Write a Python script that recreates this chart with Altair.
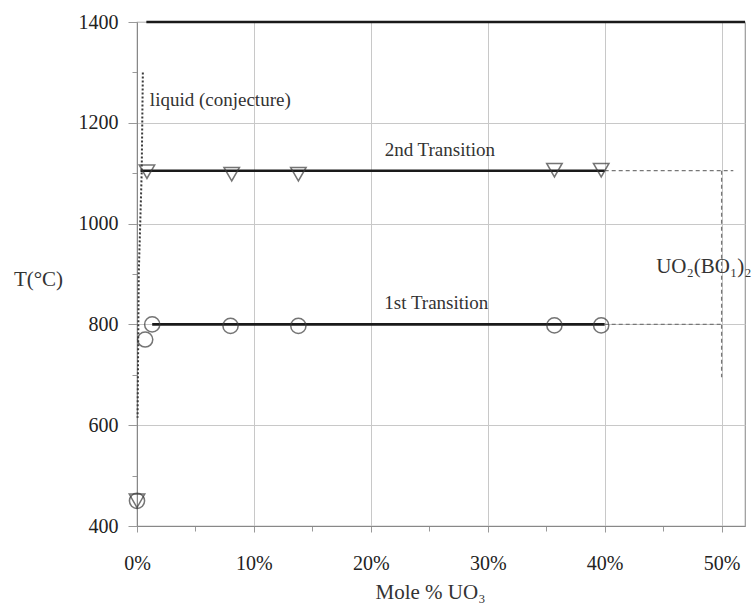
import altair as alt
import pandas as pd

FONT = "Liberation Serif"
INK = "#333333"

# 2nd transition (triangles) and 1st transition (circles), mole % UO3 vs T
tri_x = [0.0, 0.85, 8.1, 13.8, 35.7, 39.7]
tri_y = [450, 1103, 1098, 1098, 1106, 1106]
circ_x = [0.0, 0.7, 1.3, 8.0, 13.8, 35.7, 39.7]
circ_y = [450, 770, 800, 797, 797, 798, 798]

# solid phase boundaries
solid_id = ["top", "top", "t2", "t2", "t1", "t1"]
solid_x = [0.8, 52.0, 0.3, 40.0, 1.3, 40.0]
solid_y = [1400, 1400, 1105, 1105, 800, 800]

# dashed extrapolation toward UO2(BO1)2
dash_id = ["a", "a", "b", "b", "c", "c"]
dash_x = [40.0, 51.0, 50.0, 50.0, 40.0, 50.0]
dash_y = [1105, 1105, 1105, 695, 800, 800]

# conjectured liquidus
liq_x = [0.5, 0.4, 0.15, 0.05]
liq_y = [1300, 1100, 900, 615]

# annotations: centred transition labels, left-aligned region labels
mid_text = ["2nd Transition", "1st Transition"]
mid_x = [25.9, 25.6]
mid_y = [1146, 842]
left_text = ["liquid (conjecture)", "UO₂(BO₁)₂"]
left_x = [1.1, 44.4]
left_y = [1245, 914]
left_size = [19, 21]

xs = alt.Scale(domain=[0, 52], nice=False, zero=False)
ys = alt.Scale(domain=[400, 1400], nice=False, zero=False)

x_axis = alt.Axis(
    values=list(range(0, 55, 5)),
    labelExpr="datum.value % 10 === 0 ? datum.value + '%' : ''",
    labelFlush=False,
    title="Mole % UO₃",
    titleFont=FONT, titleFontSize=21, titleFontWeight="normal", titleColor=INK,
    titleX=293, titleY=66, titleBaseline="middle",
    labelFont=FONT, labelFontSize=20, labelColor="#222222", labelPadding=21,
    grid=True, gridColor="#c8c8c8",
    gridOpacity={"condition": {"test": "datum.value % 10 === 0", "value": 1}, "value": 0},
    tickSize={"condition": {"test": "datum.value % 10 === 0", "value": 6}, "value": 5},
    tickColor="#999999", domainColor="#888888",
)
y_axis = alt.Axis(
    values=list(range(400, 1500, 100)),
    labelExpr="datum.value % 200 === 0 ? datum.value : ''",
    labelFlush=False,
    title="T(°C)", titleAngle=0,
    titleFont=FONT, titleFontSize=21, titleFontWeight="normal", titleColor=INK,
    titleX=-99, titleY=257, titleAlign="center", titleBaseline="middle",
    labelFont=FONT, labelFontSize=20, labelColor="#222222", labelPadding=10,
    grid=True, gridColor="#c8c8c8",
    gridOpacity={"condition": {"test": "datum.value % 200 === 0", "value": 1}, "value": 0},
    tickSize={"condition": {"test": "datum.value % 200 === 0", "value": 9}, "value": 5},
    tickColor="#999999", domainColor="#888888",
)

solid_df = pd.DataFrame({"seg": solid_id, "x": solid_x, "y": solid_y})
dash_df = pd.DataFrame({"seg": dash_id, "x": dash_x, "y": dash_y,
                        "o": list(range(len(dash_x)))})
liq_df = pd.DataFrame({"x": liq_x, "y": liq_y, "o": list(range(len(liq_x)))})
tri_df = pd.DataFrame({"x": tri_x, "y": tri_y})
circ_df = pd.DataFrame({"x": circ_x, "y": circ_y})
mid_df = pd.DataFrame({"t": mid_text, "x": mid_x, "y": mid_y})
left_df = pd.DataFrame({"t": left_text, "x": left_x, "y": left_y, "s": left_size})

base_x = alt.X("x:Q", scale=xs, axis=x_axis)
base_y = alt.Y("y:Q", scale=ys, axis=y_axis)

solid = alt.Chart(solid_df).mark_line(color="#1a1a1a", strokeWidth=2.6).encode(
    x=base_x, y=base_y, detail="seg:N")

dashed = alt.Chart(dash_df).mark_line(
    color="#777777", strokeWidth=1.3, strokeDash=[4, 3]).encode(
    x="x:Q", y="y:Q", detail="seg:N", order="o:Q")

liquid = alt.Chart(liq_df).mark_line(
    color="#3a3a3a", strokeWidth=2, strokeDash=[2, 2]).encode(
    x="x:Q", y="y:Q", order="o:Q")

tris = alt.Chart(tri_df).mark_point(
    shape="triangle-down", size=240, filled=False, color="#3a3a3a",
    strokeWidth=1.5).encode(x="x:Q", y="y:Q")

circs = alt.Chart(circ_df).mark_point(
    shape="circle", size=230, filled=False, color="#3a3a3a",
    strokeWidth=1.5).encode(x="x:Q", y="y:Q")

mid_labels = alt.Chart(mid_df).mark_text(
    font=FONT, fontSize=19, color=INK, align="center", baseline="middle").encode(
    x="x:Q", y="y:Q", text="t:N")

left_labels = alt.Chart(left_df).mark_text(
    font=FONT, color=INK, align="left", baseline="middle").encode(
    x="x:Q", y="y:Q", text="t:N", size=alt.Size("s:Q", scale=None, legend=None))

chart = alt.layer(solid, dashed, liquid, tris, circs, mid_labels, left_labels).properties(
    width=608, height=504,
    autosize=alt.AutoSizeParams(type="none"),
    padding={"left": 137, "top": 22, "right": 11, "bottom": 79},
    background="white",
).configure_view(stroke="#999999", strokeWidth=1.2)

chart.save("out.html", embed_options={"renderer": "svg", "actions": False})
